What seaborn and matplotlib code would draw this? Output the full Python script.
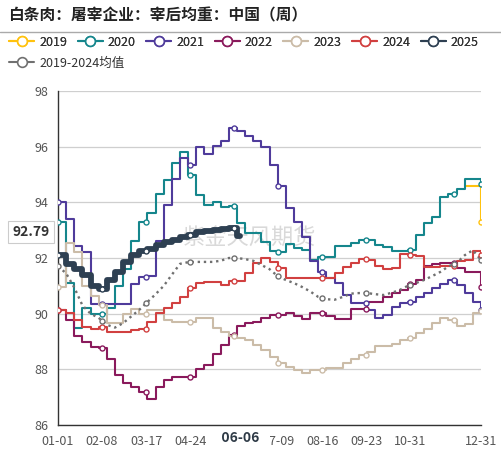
import numpy as np
import pandas as pd
import matplotlib
matplotlib.use("Agg")
import matplotlib.pyplot as plt
import seaborn as sns
from matplotlib.lines import Line2D

sns.set_style("white")
plt.rcParams['font.family'] = ['Noto Sans CJK SC', 'DejaVu Sans']

title = "白条肉：屠宰企业：宰后均重：中国（周）"
watermark = "紫金天风期货"
base_year = 2024
tick_labels = ['01-01', '02-08', '03-17', '04-24', '06-01', '07-09', '08-16', '09-23', '10-31', '12-31']
marker_labels = ['01-01', '02-08', '03-17', '04-24', '06-01', '07-09', '08-16', '09-23', '10-31', '12-08', '12-31']
latest_date = '06-06'
latest_value = 92.79
y_ticks = [86, 88, 90, 92, 94, 96, 98]

nan = np.nan
y2019 = [nan] * 50 + [94.6, 94.6, 93.3]
y2020 = [93.3, 91.1, 89.5, 90.2, 90.0, 90.0, 90.2, 91.0, 91.6, 92.6,
         93.3, 93.6, 94.3, 94.8, 95.4, 95.8, 95.0, 94.26, 93.9, 94.0,
         93.83, 93.87, 93.26, 92.9, 92.9, 92.57, 92.25, 92.2, 92.5, 92.36,
         92.3, 91.93, 92.03, 92.03, 92.43, 92.43, 92.54, 92.65, 92.64, 92.47,
         92.4, 92.25, 92.25, 92.3, 92.83, 93.26, 93.47, 94.19, 94.3, 94.47,
         94.84, 94.84, 94.66]
y2021 = [94.0, 93.4, 92.43, 92.2, 90.36, 90.36, 90.36, 90.36, 90.36, 91.07,
         91.3, 91.35, 92.6, 93.9, 94.85, 95.6, 95.35, 96.0, 95.74, 96.03,
         96.2, 96.67, 96.56, 96.38, 96.2, 96.0, 95.35, 94.6, 93.8, 93.3,
         92.75, 91.9, 91.5, 91.28, 91.1, 90.67, 90.38, 90.38, 90.14, 89.85,
         89.96, 90.24, 90.38, 90.42, 90.6, 90.74, 90.92, 91.06, 91.2, 91.03,
         90.74, 90.42, 90.14]
y2022 = [90.14, 89.78, 89.2, 88.98, 88.8, 88.77, 88.37, 87.8, 87.5, 87.36,
         87.2, 86.93, 87.36, 87.6, 87.73, 87.73, 87.73, 88.0, 88.16, 88.55,
         88.88, 89.24, 89.55, 89.66, 89.7, 89.85, 89.96, 89.96, 90.03, 89.9,
         89.8, 90.03, 90.03, 89.9, 89.8, 89.8, 90.17, 90.17, 90.42, 90.42,
         90.6, 90.74, 90.85, 91.05, 91.2, 91.7, 91.8, 91.82, 91.82, 91.64,
         91.5, 91.5, 90.96]
y2023 = [90.97, 92.55, 92.2, 91.0, 90.63, 90.3, 89.66, 89.66, 90.0, 90.17,
         89.98, 90.14, 90.14, 89.78, 89.7, 89.7, 89.7, 89.85, 89.85, 89.5,
         89.35, 89.2, 89.13, 89.06, 88.88, 88.7, 88.45, 88.23, 88.1, 87.98,
         87.87, 87.96, 87.96, 88.04, 88.04, 88.23, 88.37, 88.52, 88.64, 88.84,
         88.84, 88.91, 89.06, 89.13, 89.3, 89.45, 89.66, 89.85, 89.78, 89.55,
         89.63, 90.03, 90.1]
y2024 = [90.14, 90.03, 89.78, 89.52, 89.45, 89.52, 89.35, 89.35, 89.35, 89.41,
         89.45, 89.7, 90.03, 90.2, 90.38, 90.6, 90.92, 91.1, 91.14, 91.14,
         91.03, 91.18, 91.18, 91.46, 91.82, 92.0, 91.86, 91.64, 91.28, 91.28,
         91.28, 91.28, 91.28, 91.28, 91.46, 91.68, 91.82, 91.96, 91.93, 91.71,
         91.6, 91.64, 92.14, 92.1, 92.07, 91.68, 91.68, 91.7, 91.7, 91.89,
         91.93, 92.25, 92.1]
y2025 = [92.1, 91.8, 91.6, 91.4, 91.0, 90.9, 91.2, 91.5, 91.86, 92.1,
         92.25, 92.32, 92.45, 92.58, 92.65, 92.75, 92.82, 92.93, 92.97, 93.0,
         93.03, 93.07, 92.79]
yavg = [91.7, 91.45, 90.94, 90.3, 90.0, 89.85, 89.6, 89.5, 89.66, 89.9,
        90.14, 90.42, 90.7, 91.0, 91.4, 91.79, 91.85, 91.86, 91.86, 91.86,
        91.9, 92.0, 92.0, 91.96, 91.9, 91.75, 91.6, 91.35, 91.21, 91.1,
        90.96, 90.8, 90.6, 90.52, 90.5, 90.6, 90.72, 90.74, 90.74, 90.7,
        90.67, 90.75, 90.85, 91.0, 91.1, 91.21, 91.35, 91.5, 91.7, 91.82,
        92.1, 92.28, 91.93]

names = ['2019', '2020', '2021', '2022', '2023', '2024', '2025', '2019-2024均值']
colors = ['#ffc20e', '#15868c', '#4f3b9b', '#8a1a5c', '#cbbca8', '#d14040', '#2e4052', '#707070']


def doy(mmdd):
    return (pd.Timestamp(f"{base_year}-{mmdd}") - pd.Timestamp(f"{base_year}-01-01")).days


year_len = doy('12-31')
week_pos = np.linspace(0, year_len, 53)
tick_days = [doy(t) for t in tick_labels]
marker_days = np.array([doy(t) for t in marker_labels])
latest_day = doy(latest_date)

fig = plt.figure(figsize=(5.01, 4.5), dpi=100)
ax = fig.add_axes([58 / 501, 1 - 425 / 450, (481 - 58) / 501, (425 - 91) / 450])


def step_markers(xs, ys, days):
    xs = np.asarray(xs); ys = np.asarray(ys, dtype=float)
    days = days[days <= xs[-1]]
    idx = np.searchsorted(xs, days, side='right') - 1
    v = ys[idx]
    ok = ~np.isnan(v)
    return days[ok], v[ok]


MS = 13
series = [y2019, y2020, y2021, y2022, y2023, y2024]
for i, ys in enumerate(series):
    xs = week_pos[:len(ys)]
    sns.lineplot(x=xs, y=ys, ax=ax, color=colors[i], linewidth=1.5,
                 drawstyle='steps-post', estimator=None, sort=False, legend=False, zorder=3)
    mx, my = step_markers(xs, ys, marker_days)
    sns.scatterplot(x=mx, y=my, ax=ax, marker='o', s=MS, color='white',
                    edgecolor=colors[i], linewidth=1.0, zorder=6, legend=False)

# average (dotted)
sns.lineplot(x=week_pos, y=yavg, ax=ax, color=colors[7], linewidth=1.7,
             linestyle=(0, (1, 1.6)), estimator=None, sort=False, legend=False, zorder=4)
amy = np.interp(marker_days, week_pos, yavg)
sns.scatterplot(x=marker_days, y=amy, ax=ax, marker='o', s=MS, color='white',
                edgecolor=colors[7], linewidth=1.0, zorder=6, legend=False)

# 2025 thick
x25 = np.append(week_pos[:len(y2025)], latest_day)
v25 = y2025 + [y2025[-1]]
sns.lineplot(x=x25, y=v25, ax=ax, color=colors[6], linewidth=4.2,
             drawstyle='steps-post', estimator=None, sort=False, legend=False, zorder=5)
mx, my = step_markers(x25, v25, marker_days)
sns.scatterplot(x=mx, y=my, ax=ax, marker='o', s=MS, color='white',
                edgecolor=colors[6], linewidth=1.0, zorder=7, legend=False)

ax.set_xlim(0, year_len)
ax.set_ylim(86, 98)
ax.set_yticks(y_ticks)
ax.set_yticklabels([str(t) for t in y_ticks])
ax.set_xticks(tick_days)
# the 06-01 label sits under the crosshair label in the reference
ax.set_xticklabels(['' if t == '06-01' else t for t in tick_labels])
ax.set_xlabel('')
ax.set_ylabel('')
ax.grid(axis='y', color='#cfcfcf', linewidth=0.9, zorder=0)
ax.grid(axis='x', visible=False)
for s in ['top', 'right']:
    ax.spines[s].set_visible(False)
for s in ['left', 'bottom']:
    ax.spines[s].set_color('#333333')
    ax.spines[s].set_linewidth(1.0)
ax.tick_params(axis='y', length=4, width=1, color='#333333', labelsize=9, labelcolor='#555555', pad=3)
ax.tick_params(axis='x', length=5, width=1, color='#333333', labelsize=9, labelcolor='#555555', pad=2)
ax.set_axisbelow(True)

# watermark
ax.text(0.45, 0.56, watermark, transform=ax.transAxes, fontsize=16, color='#d9d9d9',
        ha='center', va='center', zorder=1)

# crosshair labels
ax.text(latest_day, 86 - 0.2, '   ' + latest_date + '   ', fontsize=10, fontweight='bold', color='#2e3a46',
        ha='center', va='top', zorder=10,
        bbox=dict(boxstyle='square,pad=0.15', facecolor='white', edgecolor='none'))
fig.text(31 / 501, 1 - 232 / 450, f"{latest_value:.2f}", fontsize=10, fontweight='bold', color='#333333',
         ha='center', va='center', zorder=10,
         bbox=dict(boxstyle='square,pad=0.3', facecolor='white', edgecolor='#cccccc', linewidth=0.8))

# title and separator
fig.text(8 / 501, 1 - 15 / 450, title, fontsize=11.3, fontweight='bold', color='#222222',
         ha='left', va='center')
fig.add_artist(Line2D([0, 1], [1 - 31.5 / 450, 1 - 31.5 / 450], transform=fig.transFigure,
                      color='#aaaaaa', linewidth=1.0))

# legend
handles = [Line2D([0], [0], color=c, linewidth=1.5, marker='o', markersize=7,
                  markerfacecolor='white', markeredgecolor=c, markeredgewidth=1.2)
           for c in colors]
leg1 = fig.legend(handles[:7], names[:7], loc='center left', bbox_to_anchor=(9 / 501, 1 - 42 / 450),
                  ncol=7, frameon=False, fontsize=9, handlelength=2.0, handletextpad=0.4,
                  columnspacing=0.85, borderpad=0, borderaxespad=0, labelcolor='#333333')
leg2 = fig.legend(handles[7:], names[7:], loc='center left', bbox_to_anchor=(9 / 501, 1 - 63 / 450),
                  ncol=1, frameon=False, fontsize=9, handlelength=2.0, handletextpad=0.4,
                  borderpad=0, borderaxespad=0, labelcolor='#333333')
fig.add_artist(leg1)

fig.savefig('out.png', dpi=100)
